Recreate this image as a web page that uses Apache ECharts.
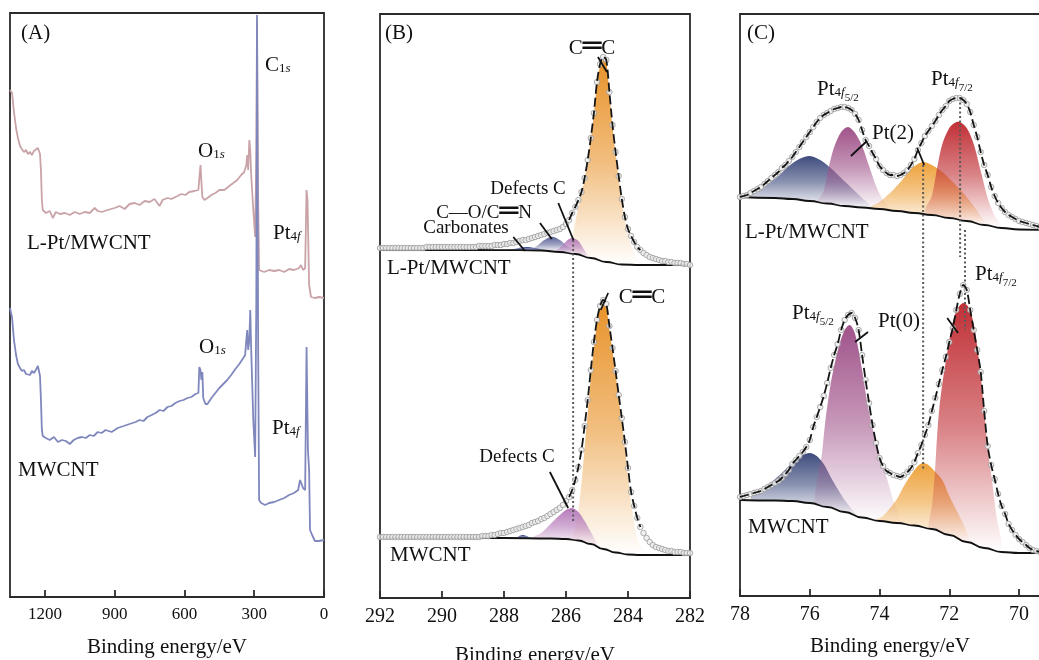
<!DOCTYPE html>
<html><head><meta charset="utf-8">
<script src="https://cdn.jsdelivr.net/npm/echarts@6/dist/echarts.min.js"></script>
<style>html,body{margin:0;padding:0;background:#fff}#c{width:1039px;height:660px}</style>
</head><body><div id="c"></div>
<script>
// ---------------- Panel A: survey spectra ----------------
const surveyEnergyL = [1350,1341,1333,1324,1316,1307,1299,1290,1281,1273,1264,1256,1247,1239,1230,1226,1221,1217,1213,1209,1196,1179,1166,1153,1136,1114,1093,1071,1050,1029,1007,986,973,956,930,900,879,857,836,814,793,771,750,729,707,694,673,656,630,613,596,579,557,540,536,531,527,523,514,501,484,467,450,429,407,390,373,356,343,334,330,326,321,317,313,304,296,291,288,286,283,279,257,236,214,193,171,150,129,107,99,90,81,75,71,64,56,39,21,0];
const surveyIntensityL = [507,504,485,469,459,451,448,445,447,443,445,442,446,444,449,451,443,427,397,387,384,386,379,385,383,384,382,385,383,385,384,389,386,385,387,389,391,388,393,394,392,396,395,398,391,397,399,398,401,403,402,405,406,407,419,432,415,400,397,399,402,404,407,407,411,414,417,422,425,432,442,427,457,447,422,387,360,447,577,577,397,327,325,327,326,327,325,328,327,329,332,327,329,407,397,312,300,299,300,299];
const surveyEnergyM = [1350,1341,1333,1324,1316,1307,1299,1290,1281,1273,1264,1256,1247,1239,1230,1226,1221,1217,1213,1209,1196,1179,1161,1144,1127,1110,1093,1076,1059,1041,1024,1007,990,973,956,939,913,887,861,836,810,793,776,759,741,724,707,690,673,656,639,621,604,587,570,553,540,536,531,527,523,519,510,501,484,467,450,433,416,399,381,364,347,339,334,330,326,321,317,313,304,296,291,288,286,283,279,270,253,236,214,193,171,150,129,111,103,99,90,81,75,71,69,64,60,51,39,21,0];
const surveyIntensityM = [289,279,257,242,233,229,226,227,223,225,222,226,224,227,231,229,221,197,167,161,159,157,160,155,157,156,153,157,159,160,159,162,161,165,164,167,165,169,171,173,175,177,176,180,182,184,187,186,190,191,194,196,197,199,200,203,204,230,227,217,225,199,193,193,199,204,209,213,217,222,228,233,239,242,257,267,247,257,287,247,177,140,297,582,582,247,97,94,92,94,95,97,99,102,104,107,117,119,109,107,250,250,147,127,67,62,56,56,57];
const surveyTicks = [1200, 900, 600, 300, 0];

// ---------------- Panel B: C 1s ----------------
const c1sStart = 292.0, c1sStep = 0.1;
const c1sRawL = [
350,350,350,350,350,350,350,350,350,350,
350,350,350,350,350,351,351,351,351,351,
351,351,351,351,351,351,351,351,351,351,
351,351,352,352,352,352,352,353,353,353,
354,354,355,355,356,357,358,358,359,360,
361,362,363,364,365,366,367,368,369,371,
374,378,385,391,398,406,420,438,460,485,
516,534,541,538,506,473,446,422,399,381,
369,362,356,351,348,345,343,341,340,339,
338,337,337,336,336,335,335,335,334,334,
333];
const c1sRawM = [
61,61,61,61,61,61,61,61,61,61,
61,61,61,61,61,61,61,61,61,61,
61,61,61,61,61,61,61,61,61,61,
61,61,61,62,62,62,63,63,64,65,
65,66,67,68,69,70,71,72,73,75,
76,77,79,80,82,84,86,88,90,93,
97,101,108,118,131,148,172,198,228,256,
278,292,298,294,272,250,227,203,180,156,
130,106,92,80,71,65,60,56,53,51,
50,49,48,47,47,46,46,46,45,45,
45];
const c1sFitRange = [283.6, 285.9];
const c1sBgL = [[292,348],[289,348],[287.5,347.8],[286.8,347.5],[286.2,346],[285.7,344],[285.2,340],[284.7,336],[284.2,333.5],[283.6,333],[282,333]];
const c1sBgM = [[292,60],[288,60],[286.5,59.5],[286,59],[285.6,57.5],[285.2,54],[284.8,49],[284.4,45.5],[284,43.5],[283.6,43],[282,43]];
const c1sCCL = [[285.9,348],[285.8,360],[285.7,376],[285.6,391],[285.5,404],[285.4,419],[285.3,437],[285.2,459],[285.1,484],[285.0,514],[284.9,532],[284.8,538],[284.7,535],[284.6,504],[284.5,471],[284.4,444],[284.3,420],[284.2,397],[284.1,378],[284.0,364],[283.9,353],[283.8,344],[283.6,336],[283.4,333.5]];
const c1sCarbL = [[287.9,348],[287.6,349.5],[287.3,351],[287.0,350],[286.6,347.5]];
const c1sCOL = [[287.1,348],[286.9,353],[286.7,358],[286.5,361],[286.4,361],[286.2,358],[286.0,353],[285.8,347.5]];
const c1sDefL = [[286.35,346.5],[286.2,350],[286.05,355],[285.9,359],[285.77,360],[285.6,357],[285.45,350],[285.3,343],[285.2,340]];
const c1sCCM = [[285.8,58.5],[285.7,70],[285.6,88],[285.5,115],[285.4,150],[285.3,185],[285.2,220],[285.1,250],[285.0,275],[284.9,290],[284.8,295],[284.7,291],[284.6,268],[284.5,247],[284.4,224],[284.3,200],[284.2,176],[284.1,150],[284.0,122],[283.9,95],[283.8,75],[283.7,60],[283.5,48],[283.3,43.5]];
const c1sCarbM = [[287.6,60],[287.4,63],[287.15,60]];
const c1sDefM = [[287.1,60],[286.8,65],[286.5,74],[286.2,83],[286.0,88],[285.8,90],[285.6,86],[285.4,77],[285.2,66],[285.0,55],[284.9,51]];
const c1sTicks = [292, 290, 288, 286, 284, 282];
const c1sGuide = [[285.77,358],[285.77,75]];
const c1sLeaders = [
  [[284.97,541],[284.68,526]],
  [[286.25,395],[285.76,358]],
  [[286.84,375],[286.46,359]],
  [[287.70,361],[287.32,347]],
  [[284.64,305],[284.88,288]],
  [[286.52,126],[285.93,90]]
];

// ---------------- Panel C: Pt 4f ----------------
const pt4fStart = 78.0, pt4fStep = 0.1;
const pt4fRawL = [
399,400,401,403,405,407,409,412,415,418,
421,424,428,431,435,439,444,449,454,459,
464,469,474,478,481,483,485,487,488,489,
489,488,486,482,476,466,456,450,443,437,
430,426,423,421,421,420,421,423,426,431,
437,446,453,460,465,470,475,481,486,490,
495,497,498,498,496,492,484,471,459,444,
431,421,409,400,393,388,384,381,379,377,
375,374,373,372,371,370,369];
const pt4fRawM = [
99,100,101,102,103,104,105,107,109,111,
113,115,118,122,126,132,136,140,144,149,
156,169,179,189,200,213,228,241,252,266,
276,281,283,278,266,241,216,193,171,153,
138,130,125,123,121,120,119,121,124,128,
134,143,151,161,171,185,198,212,226,239,
254,268,286,302,311,306,286,266,246,224,
185,150,131,117,102,90,82,72,66,61,
57,54,51,48,46,45,44];
const pt4fBgL = [[78,399],[77,398],[76.5,397],[76,395],[75.5,392.5],[75,390],[74.5,388.5],[74,387],[73.5,385],[73,383],[72.5,381],[72,378],[71.5,375],[71,371],[70.5,368],[70,366.5],[69.4,366]];
const pt4fBgM = [[78,96],[77,95.5],[76.5,95],[76,93],[75.5,89],[75,84],[74.5,78.5],[74,75],[73.5,73],[73,70.5],[72.5,67],[72,61],[71.5,54],[71,48],[70.5,44],[70,43],[69.4,43]];
const pt4fNavyL = [[77.8,400],[77.5,404],[77.2,412],[76.9,420],[76.6,430],[76.3,437],[76.0,440],[75.7,436],[75.4,428],[75.1,418],[74.8,408],[74.5,398],[74.2,388]];
const pt4fPurpleL = [[75.8,393],[75.6,405],[75.45,430],[75.3,449],[75.1,464],[74.9,469],[74.7,463],[74.5,450],[74.3,430],[74.1,410],[73.9,396],[73.7,387]];
const pt4fOrangeL = [[74.3,388],[74.0,394],[73.7,403],[73.4,414],[73.1,427],[72.9,432],[72.75,434],[72.5,431],[72.2,424],[71.9,414],[71.6,403],[71.3,390],[71.0,375],[70.8,370]];
const pt4fRedL = [[72.7,385],[72.5,400],[72.35,428],[72.2,452],[72.0,468],[71.85,473],[71.7,474],[71.5,468],[71.3,452],[71.1,425],[70.9,398],[70.7,380],[70.5,369]];
const pt4fNavyM = [[77.7,97],[77.4,106],[77.1,114],[76.8,123],[76.5,133],[76.2,141],[76.0,143],[75.8,140],[75.6,132],[75.4,119],[75.2,107],[75.0,96],[74.8,87],[74.6,79]];
const pt4fPurpleM = [[75.85,92],[75.65,143],[75.55,176],[75.4,212],[75.2,245],[75.0,266],[74.85,271],[74.7,262],[74.5,226],[74.35,193],[74.2,168],[74.05,148],[73.8,119],[73.6,95],[73.4,76]];
const pt4fOrangeM = [[74.1,76],[73.9,80],[73.7,88],[73.5,97],[73.3,110],[73.1,121],[72.9,130],[72.75,133],[72.6,131],[72.4,124],[72.2,116],[72.0,100],[71.8,86],[71.6,72],[71.4,54]];
const pt4fRedM = [[72.6,68],[72.5,90],[72.42,120],[72.35,160],[72.28,190],[72.2,212],[72.05,245],[71.9,274],[71.75,288],[71.6,293],[71.45,289],[71.3,272],[71.15,236],[71.0,186],[70.9,147],[70.8,122],[70.65,80],[70.5,45]];
const pt4fTicks = [78, 76, 74, 72, 70];
const pt4fGuides = [
  [[72.75,431],[72.75,126]],
  [[71.69,498],[71.69,339]],
  [[71.55,366],[71.55,266]]
];
const pt4fLeaders = [
  [[74.82,440],[74.36,455]],
  [[72.92,448],[72.72,431]],
  [[74.33,264],[74.70,254]],
  [[72.06,278],[71.75,263]]
];

// ---------------- helpers ----------------
const F = "'Liberation Serif','Times New Roman',serif";
const INK = '#111';
const zip = (xs, ys) => xs.map((x, i) => [x, ys[i]]);
const grid = (start, step, vals) => vals.map((v, i) => [+(start - i * step).toFixed(2), v]);
function rgba(hex, a) { const n = parseInt(hex.slice(1), 16); return `rgba(${n >> 16},${(n >> 8) & 255},${n & 255},${a})`; }

function comp(ax, pts, bg, color) {
  return {
    type: 'custom', xAxisIndex: ax, yAxisIndex: ax, z: 1, silent: true, clip: true,
    data: [pts[0]],
    renderItem(params, api) {
      const lo = Math.min(pts[0][0], pts[pts.length - 1][0]);
      const hi = Math.max(pts[0][0], pts[pts.length - 1][0]);
      const bottom = bg.filter(p => p[0] > lo && p[0] < hi).sort((a, b) => a[0] - b[0]);
      const poly = pts.concat(bottom).map(p => api.coord(p));
      return {
        type: 'polygon', shape: { points: poly, smooth: 0.3 },
        style: { fill: new echarts.graphic.LinearGradient(0, 0, 0, 1, [
          { offset: 0, color: rgba(color, 1) },
          { offset: 0.5, color: rgba(color, 0.6) },
          { offset: 1, color: rgba(color, 0.0) }]) }
      };
    }
  };
}
function line(ax, data, color, width, extra) {
  return Object.assign({ type: 'line', xAxisIndex: ax, yAxisIndex: ax, data, showSymbol: false, symbol: 'none',
    silent: true, z: 2, lineStyle: { color, width } }, extra || {});
}
function raw(ax, data) {
  return { type: 'scatter', xAxisIndex: ax, yAxisIndex: ax, data, symbol: 'circle', symbolSize: 5.5, silent: true, z: 3,
    itemStyle: { color: '#ededed', borderColor: '#9a9a9a', borderWidth: 1 } };
}
function envelope(ax, data) {
  return line(ax, data, '#151515', 1.8, { smooth: 0.3, z: 4, lineStyle: { color: '#151515', width: 1.8, type: [9, 4] } });
}
function bgLine(ax, data) {
  return line(ax, data, INK, 1.8, { smooth: true, smoothMonotone: 'x', z: 2 });
}
function guide(ax, data) {
  return line(ax, data, '#555', 2, { z: 2, lineStyle: { color: '#5a5a5a', width: 2, type: [2, 2.5] } });
}
function leader(ax, data) { return line(ax, data, INK, 1.8, { z: 6 }); }

const R = {
  m: { fontFamily: F, fontSize: 21, lineHeight: 30, fill: INK, verticalAlign: 'middle' },
  n: { fontFamily: F, fontSize: 19, lineHeight: 30, fill: INK, verticalAlign: 'middle' },
  s: { fontFamily: F, fontSize: 13, lineHeight: 30, padding: [8, 0, 0, 0], fill: INK, verticalAlign: 'middle' },
  si: { fontFamily: F, fontSize: 13, fontStyle: 'italic', lineHeight: 30, padding: [8, 0, 0, 0], fill: INK, verticalAlign: 'middle' },
  ss: { fontFamily: F, fontSize: 11, lineHeight: 30, padding: [19, 0, 0, 0], fill: INK, verticalAlign: 'middle' },
  b: { fontFamily: "'DejaVu Sans Mono',monospace", fontSize: 31, lineHeight: 30, fill: INK, verticalAlign: 'middle' }
};
function T(x, y, text, align) {
  return { type: 'text', x, y, z: 100, silent: true,
    style: { text, fontFamily: F, fontSize: 21, fill: INK, align: align || 'left', verticalAlign: 'middle', rich: R } };
}
const PT52 = '{m|Pt}{s|4}{si|f}{ss|5/2}';
const PT72 = '{m|Pt}{s|4}{si|f}{ss|7/2}';

function xAxis(gi, min, max, ticks, fs, gap) {
  return { gridIndex: gi, type: 'value', min, max, inverse: true,
    axisLine: { show: true, onZero: false, lineStyle: { color: '#2b2b2b', width: 1.8 } },
    axisTick: { show: true, inside: true, length: 7, customValues: ticks, lineStyle: { color: '#2b2b2b', width: 1.8 } },
    axisLabel: { customValues: ticks, fontSize: fs, fontFamily: F, color: INK, margin: 9, showMinLabel: true, showMaxLabel: true,
      formatter: v => String(v) },
    splitLine: { show: false },
    name: 'Binding energy/eV', nameLocation: 'middle', nameGap: gap,
    nameTextStyle: { fontSize: 21, fontFamily: F, color: INK } };
}
const gridBox = (left, top, width, height) => ({ left, top, width, height, show: true, borderColor: '#2b2b2b', borderWidth: 1.8, containLabel: false, outerBoundsMode: 'none' });

const rawBL = grid(c1sStart, c1sStep, c1sRawL), rawBM = grid(c1sStart, c1sStep, c1sRawM);
const rawCL = grid(pt4fStart, pt4fStep, pt4fRawL), rawCM = grid(pt4fStart, pt4fStep, pt4fRawM);
const inFit = p => p[0] >= c1sFitRange[0] && p[0] <= c1sFitRange[1];

const series = [
  // A
  line(0, zip(surveyEnergyL, surveyIntensityL), '#c9a3a7', 1.8),
  line(0, zip(surveyEnergyM, surveyIntensityM), '#7f87bd', 1.8, { z: 3 }),
  // B components
  comp(1, c1sCCL, c1sBgL, '#e8932a'),
  comp(1, c1sCarbL, c1sBgL, '#2b3d8f'),
  comp(1, c1sCOL, c1sBgL, '#5c6398'),
  comp(1, c1sDefL, c1sBgL, '#b67bba'),
  comp(1, c1sCCM, c1sBgM, '#e8932a'),
  comp(1, c1sCarbM, c1sBgM, '#2b3d8f'),
  comp(1, c1sDefM, c1sBgM, '#b67bba'),
  bgLine(1, c1sBgL), bgLine(1, c1sBgM),
  guide(1, c1sGuide),
  raw(1, rawBL), raw(1, rawBM),
  envelope(1, rawBL.filter(inFit)), envelope(1, rawBM.filter(inFit)),
  ...c1sLeaders.map(d => leader(1, d)),
  // C components
  comp(2, pt4fNavyL, pt4fBgL, '#3e4b7d'),
  comp(2, pt4fPurpleL, pt4fBgL, '#a0538a'),
  comp(2, pt4fOrangeL, pt4fBgL, '#eea23c'),
  comp(2, pt4fRedL, pt4fBgL, '#c03036'),
  comp(2, pt4fNavyM, pt4fBgM, '#3e4b7d'),
  comp(2, pt4fPurpleM, pt4fBgM, '#a0538a'),
  comp(2, pt4fOrangeM, pt4fBgM, '#eea23c'),
  comp(2, pt4fRedM, pt4fBgM, '#c03036'),
  bgLine(2, pt4fBgL), bgLine(2, pt4fBgM),
  ...pt4fGuides.map(d => guide(2, d)),
  raw(2, rawCL), raw(2, rawCM),
  envelope(2, rawCL), envelope(2, rawCM),
  ...pt4fLeaders.map(d => leader(2, d))
];

const graphics = [
  // A
  T(21, 33, '{m|(A)}'),
  T(265, 65, '{m|C}{s|1}{si|s}'),
  T(198, 151, '{m|O}{s|1}{si|s}'),
  T(273, 233, '{m|Pt}{s|4}{si|f}'),
  T(27, 243, '{m|L-Pt/MWCNT}'),
  T(199, 347, '{m|O}{s|1}{si|s}'),
  T(272, 428, '{m|Pt}{s|4}{si|f}'),
  T(18, 470, '{m|MWCNT}'),
  // B
  T(385, 33, '{m|(B)}'),
  T(592, 48, '{m|C}{b|\u2550}{m|C}', 'center'),
  T(528, 189, '{n|Defects C}', 'center'),
  T(484, 213, '{n|C\u2014O/C}{b|\u2550}{n|N}', 'center'),
  T(466, 228, '{n|Carbonates}', 'center'),
  T(387, 268, '{m|L-Pt/MWCNT}'),
  T(642, 297, '{m|C}{b|\u2550}{m|C}', 'center'),
  T(517, 457, '{n|Defects C}', 'center'),
  T(390, 555, '{m|MWCNT}'),
  // C
  T(747, 33, '{m|(C)}'),
  T(817, 89, PT52),
  T(931, 79, PT72),
  T(872, 133, '{m|Pt(2)}'),
  T(745, 232, '{m|L-Pt/MWCNT}'),
  T(792, 313, PT52),
  T(878, 321, '{m|Pt(0)}'),
  T(975, 274, PT72),
  T(748, 527, '{m|MWCNT}')
];

const chart = echarts.init(document.getElementById('c'), null, { renderer: 'canvas' });
chart.setOption({
  animation: false,
  backgroundColor: '#fff',
  textStyle: { fontFamily: F },
  grid: [gridBox(10, 13, 314, 584), gridBox(380, 14, 310, 584), gridBox(740, 14, 300, 582)],
  xAxis: [xAxis(0, 0, 1350, surveyTicks, 17, 40), xAxis(1, 282, 292, c1sTicks, 20, 47), xAxis(2, 69.4, 78, pt4fTicks, 20, 40)],
  yAxis: [0, 1, 2].map((g, i) => ({ gridIndex: g, type: 'value', min: 0, max: [584, 584, 582][i], show: false })),
  series,
  graphic: graphics
});
</script></body></html>
